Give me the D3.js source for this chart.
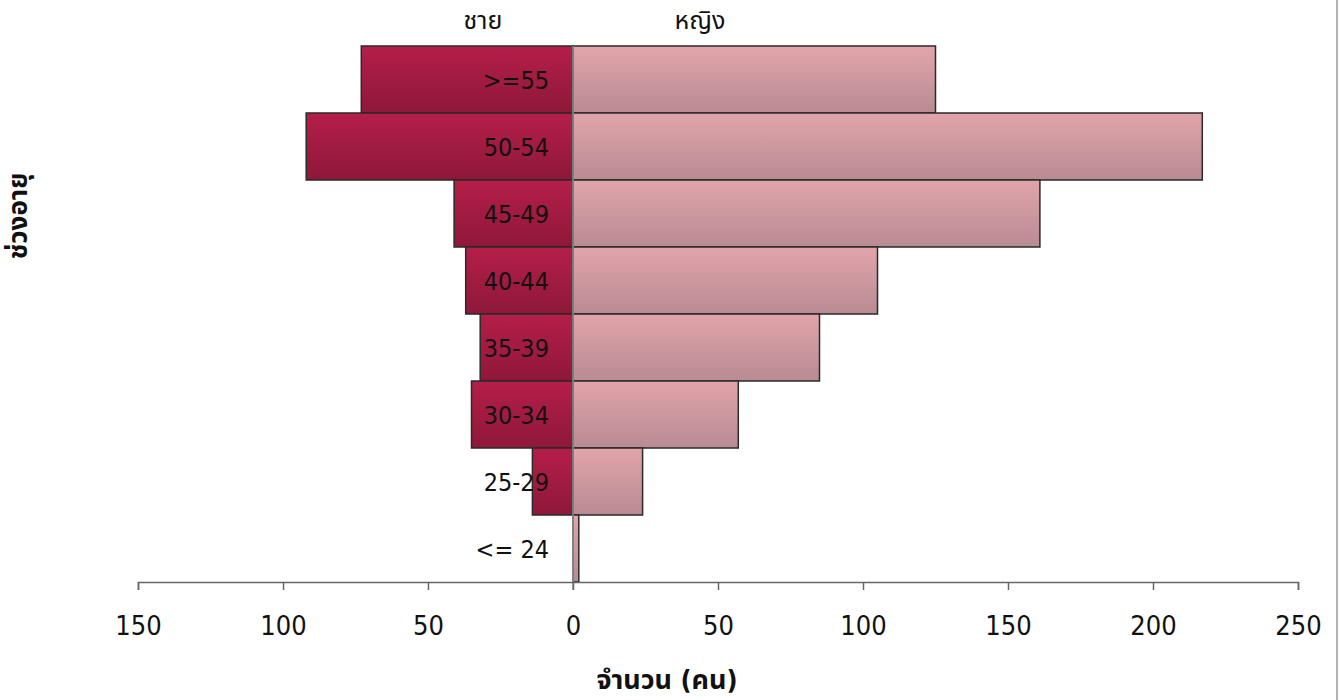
<!DOCTYPE html>
<html>
<head>
<meta charset="utf-8">
<script src="https://cdn.jsdelivr.net/npm/d3@7"></script>
<style>
  body { margin: 0; background: #fff; }
  svg { display: block; }
  text { font-family: "DejaVu Sans Condensed", "DejaVu Sans", "Noto Sans Thai", "Noto Sans", sans-serif; }
</style>
</head>
<body>
<div id="chart"></div>
<script>
// age groups, top to bottom
const ageGroups = ['>=55', '50-54', '45-49', '40-44', '35-39', '30-34', '25-29', '<= 24'];
const male = [73, 92, 41, 37, 32, 35, 14, 0];
const female = [125, 217, 161, 105, 85, 57, 24, 2];
const xTicks = [-150, -100, -50, 0, 50, 100, 150, 200, 250];

const width = 1340, height = 700;
const margin = { top: 46, right: 42, bottom: 118, left: 138 };

const svg = d3.select('#chart').append('svg')
  .attr('width', width)
  .attr('height', height);

const defs = svg.append('defs');
const maleGrad = defs.append('linearGradient')
  .attr('id', 'male-grad').attr('x1', 0).attr('y1', 0).attr('x2', 0).attr('y2', 1);
maleGrad.append('stop').attr('offset', '0%').attr('stop-color', '#b51e49');
maleGrad.append('stop').attr('offset', '100%').attr('stop-color', '#8e1839');
const femaleGrad = defs.append('linearGradient')
  .attr('id', 'female-grad').attr('x1', 0).attr('y1', 0).attr('x2', 0).attr('y2', 1);
femaleGrad.append('stop').attr('offset', '0%').attr('stop-color', '#e2a4aa');
femaleGrad.append('stop').attr('offset', '100%').attr('stop-color', '#b88b93');

const x = d3.scaleLinear()
  .domain([-150, 250])
  .range([margin.left, width - margin.right]);

const y = d3.scaleBand()
  .domain(ageGroups)
  .range([margin.top, height - margin.bottom])
  .padding(0);

const rows = ageGroups.map((g, i) => ({ group: g, male: male[i], female: female[i] }));

// right frame edge
svg.append('line')
  .attr('x1', 1337).attr('x2', 1337).attr('y1', 0).attr('y2', height)
  .attr('stroke', '#999').attr('stroke-width', 1.5);

// male bars
svg.selectAll('.male')
  .data(rows.filter(d => d.male > 0))
  .enter().append('rect')
  .attr('class', 'male')
  .attr('x', d => x(-d.male))
  .attr('y', d => y(d.group))
  .attr('width', d => x(0) - x(-d.male))
  .attr('height', y.bandwidth())
  .attr('fill', 'url(#male-grad)')
  .attr('stroke', '#2a2a2a')
  .attr('stroke-width', 1.5);

// female bars
svg.selectAll('.female')
  .data(rows)
  .enter().append('rect')
  .attr('class', 'female')
  .attr('x', x(0))
  .attr('y', d => y(d.group))
  .attr('width', d => x(d.female) - x(0))
  .attr('height', y.bandwidth())
  .attr('fill', 'url(#female-grad)')
  .attr('stroke', '#2a2a2a')
  .attr('stroke-width', 1.5);

// zero line
svg.append('line')
  .attr('x1', x(0)).attr('x2', x(0))
  .attr('y1', margin.top).attr('y2', height - margin.bottom + 8)
  .attr('stroke', '#8a9494').attr('stroke-width', 1.5);

// category labels near zero
svg.selectAll('.cat')
  .data(rows)
  .enter().append('text')
  .attr('class', 'cat')
  .attr('x', x(0) - 24)
  .attr('y', d => y(d.group) + y.bandwidth() / 2)
  .attr('dy', '0.36em')
  .attr('text-anchor', 'end')
  .style('font-size', '25px')
  .style('fill', '#111')
  .text(d => d.group);

// x axis
const xAxis = svg.append('g')
  .attr('transform', `translate(0,${height - margin.bottom})`)
  .call(d3.axisBottom(x)
    .tickValues(xTicks)
    .tickSize(8)
    .tickPadding(26)
    .tickFormat(d => Math.abs(d)));
xAxis.select('.domain').attr('stroke', '#666').attr('stroke-width', 1.5);
xAxis.selectAll('.tick line').attr('stroke', '#666').attr('stroke-width', 1.5);
xAxis.selectAll('.tick text')
  .style('font-size', '27px')
  .style('fill', '#111')
  .style('font-family', '"DejaVu Sans Condensed", "DejaVu Sans", sans-serif');

// series headers
svg.append('text')
  .attr('x', 483).attr('y', 29)
  .attr('text-anchor', 'middle')
  .style('font-size', '25px')
  .style('fill', '#111')
  .text('ชาย');
svg.append('text')
  .attr('x', 700).attr('y', 29)
  .attr('text-anchor', 'middle')
  .style('font-size', '25px')
  .style('fill', '#111')
  .text('หญิง');

// axis titles
svg.append('text')
  .attr('transform', 'translate(27,216) rotate(-90)')
  .attr('text-anchor', 'middle')
  .style('font-size', '26px')
  .style('font-weight', 'bold')
  .style('fill', '#111')
  .text('ช่วงอายุ');
svg.append('text')
  .attr('x', 667).attr('y', 689)
  .attr('text-anchor', 'middle')
  .style('font-size', '27px')
  .style('font-weight', 'bold')
  .style('fill', '#111')
  .text('จำนวน (คน)');
</script>
</body>
</html>
